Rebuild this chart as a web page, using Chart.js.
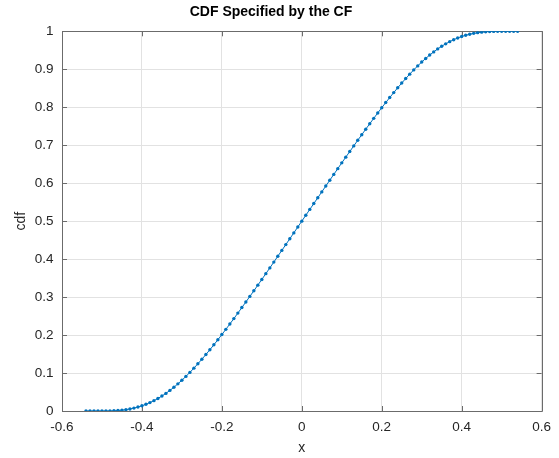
<!DOCTYPE html>
<html>
<head>
<meta charset="utf-8">
<script src="https://cdn.jsdelivr.net/npm/chart.js@4/dist/chart.umd.min.js"></script>
<style>
  html, body { margin: 0; padding: 0; background: #fff; }
  #wrap { width: 559px; height: 458px; }
</style>
</head>
<body>
<div id="wrap"><canvas id="chart" width="559" height="458"></canvas></div>
<script>
// x 网格点 (步长 0.01)
const xVals = [
  -0.54, -0.53, -0.52, -0.51, -0.50, -0.49, -0.48, -0.47, -0.46, -0.45,
  -0.44, -0.43, -0.42, -0.41, -0.40, -0.39, -0.38, -0.37, -0.36, -0.35,
  -0.34, -0.33, -0.32, -0.31, -0.30, -0.29, -0.28, -0.27, -0.26, -0.25,
  -0.24, -0.23, -0.22, -0.21, -0.20, -0.19, -0.18, -0.17, -0.16, -0.15,
  -0.14, -0.13, -0.12, -0.11, -0.10, -0.09, -0.08, -0.07, -0.06, -0.05,
  -0.04, -0.03, -0.02, -0.01, 0.00, 0.01, 0.02, 0.03, 0.04, 0.05,
  0.06, 0.07, 0.08, 0.09, 0.10, 0.11, 0.12, 0.13, 0.14, 0.15,
  0.16, 0.17, 0.18, 0.19, 0.20, 0.21, 0.22, 0.23, 0.24, 0.25,
  0.26, 0.27, 0.28, 0.29, 0.30, 0.31, 0.32, 0.33, 0.34, 0.35,
  0.36, 0.37, 0.38, 0.39, 0.40, 0.41, 0.42, 0.43, 0.44, 0.45,
  0.46, 0.47, 0.48, 0.49, 0.50, 0.51, 0.52, 0.53, 0.54
];

// cdf 值
const cdfVals = [
  0, 0, 0, 0, 0, 0.0001, 0.0002, 0.0006, 0.0012, 0.0022,
  0.0036, 0.0054, 0.0077, 0.0104, 0.0137, 0.0176, 0.0221, 0.0272, 0.0330, 0.0394,
  0.0464, 0.0542, 0.0625, 0.0715, 0.0810, 0.0911, 0.1017, 0.1128, 0.1244, 0.1363,
  0.1487, 0.1614, 0.1744, 0.1877, 0.2013, 0.2151, 0.2292, 0.2434, 0.2578, 0.2724,
  0.2870, 0.3018, 0.3166, 0.3315, 0.3465, 0.3617, 0.3769, 0.3922, 0.4076, 0.4229,
  0.4383, 0.4537, 0.4691, 0.4846, 0.5000, 0.5154, 0.5309, 0.5463, 0.5617, 0.5771,
  0.5924, 0.6078, 0.6231, 0.6383, 0.6535, 0.6685, 0.6834, 0.6982, 0.7130, 0.7276,
  0.7422, 0.7566, 0.7708, 0.7849, 0.7987, 0.8123, 0.8256, 0.8386, 0.8513, 0.8637,
  0.8756, 0.8872, 0.8983, 0.9089, 0.9190, 0.9285, 0.9375, 0.9458, 0.9536, 0.9606,
  0.9670, 0.9728, 0.9779, 0.9824, 0.9863, 0.9896, 0.9923, 0.9946, 0.9964, 0.9978,
  0.9988, 0.9994, 0.9998, 0.9999, 1, 1, 1, 1, 1
];

// 刻度
const xTicks = [-0.6, -0.4, -0.2, 0, 0.2, 0.4, 0.6];
const xTickLabels = ['-0.6', '-0.4', '-0.2', '0', '0.2', '0.4', '0.6'];
const yTicks = [0, 0.1, 0.2, 0.3, 0.4, 0.5, 0.6, 0.7, 0.8, 0.9, 1];
const yTickLabels = ['0', '0.1', '0.2', '0.3', '0.4', '0.5', '0.6', '0.7', '0.8', '0.9', '1'];

const FONT = 'Helvetica, "Liberation Sans", Arial, sans-serif';
const AXIS_COLOR = '#6b6b6b';

// MATLAB 风格外框 + 向内刻度
const boxPlugin = {
  id: 'box',
  beforeDatasetsDraw(chart) {
    const { ctx, chartArea: a, scales } = chart;
    const tl = 5;
    ctx.save();
    ctx.strokeStyle = AXIS_COLOR;
    ctx.lineWidth = 1;
    ctx.beginPath();
    ctx.rect(Math.round(a.left) + 0.5, Math.round(a.top) + 0.5,
             Math.round(a.right - a.left), Math.round(a.bottom - a.top));
    xTicks.forEach(v => {
      const px = Math.round(scales.x.getPixelForValue(v)) + 0.5;
      ctx.moveTo(px, a.bottom); ctx.lineTo(px, a.bottom - tl);
      ctx.moveTo(px, a.top); ctx.lineTo(px, a.top + tl);
    });
    yTicks.forEach(v => {
      const py = Math.round(scales.y.getPixelForValue(v)) + 0.5;
      ctx.moveTo(a.left, py); ctx.lineTo(a.left + tl, py);
      ctx.moveTo(a.right, py); ctx.lineTo(a.right - tl, py);
    });
    ctx.stroke();
    ctx.restore();
  }
};

const points = xVals.map((x, i) => ({ x, y: cdfVals[i] }));

new Chart(document.getElementById('chart'), {
  type: 'scatter',
  data: {
    datasets: [{
      data: points,
      showLine: true,
      borderColor: '#0072bd',
      backgroundColor: '#0072bd',
      borderWidth: 1,
      pointRadius: 1.7,
      pointBorderWidth: 0,
      tension: 0
    }]
  },
  plugins: [boxPlugin],
  options: {
    responsive: false,
    animation: false,
    layout: { padding: { left: 0, right: 17, top: 0, bottom: 0 } },
    plugins: {
      legend: { display: false },
      tooltip: { enabled: false },
      title: {
        display: true,
        text: 'CDF Specified by the CF',
        color: '#000',
        font: { family: FONT, size: 14, weight: 'bold' },
        padding: { top: 4, bottom: 10.5 }
      }
    },
    scales: {
      x: {
        type: 'linear',
        min: -0.6, max: 0.6,
        afterBuildTicks: s => { s.ticks = xTicks.map(v => ({ value: v })); },
        afterFit: s => { s.height = 47; },
        ticks: {
          color: '#262626',
          font: { family: FONT, size: 13.5 },
          padding: 8,
          maxRotation: 0,
          callback: (v, i) => xTickLabels[i]
        },
        grid: { color: '#e2e2e2', drawTicks: false },
        border: { display: false },
        title: {
          display: true, text: 'x', color: '#262626',
          font: { family: FONT, size: 14 },
          padding: { top: 0, bottom: 1 }
        }
      },
      y: {
        type: 'linear',
        min: 0, max: 1,
        afterBuildTicks: s => { s.ticks = yTicks.map(v => ({ value: v })); },
        afterFit: s => { s.width = 62; },
        ticks: {
          color: '#262626',
          font: { family: FONT, size: 13.5 },
          padding: 8.5,
          callback: (v, i) => yTickLabels[i]
        },
        grid: { color: '#e2e2e2', drawTicks: false },
        border: { display: false },
        title: {
          display: true, text: 'cdf', color: '#262626',
          font: { family: FONT, size: 14 },
          padding: { top: 13, bottom: 0 }
        }
      }
    }
  }
});
</script>
</body>
</html>
